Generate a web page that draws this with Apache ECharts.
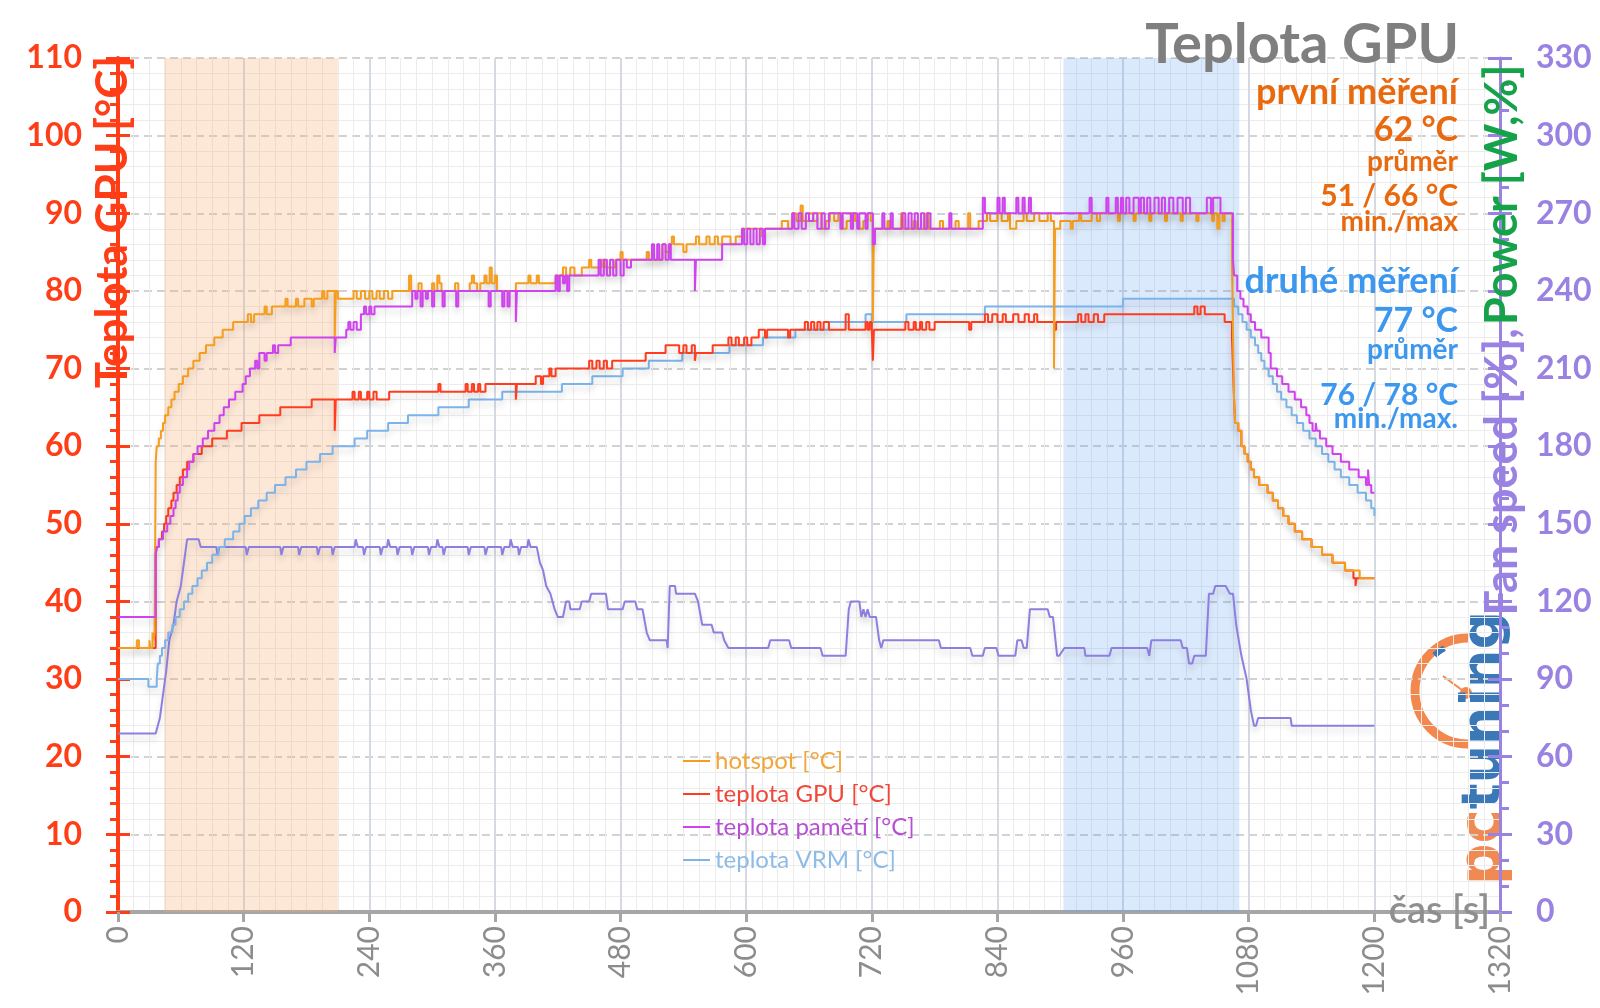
<!DOCTYPE html>
<html><head><meta charset="utf-8">
<script src="https://cdn.jsdelivr.net/npm/echarts@6/dist/echarts.min.js"></script>
<style>html,body{margin:0;padding:0;background:#fff}#c{width:1600px;height:1008px}</style>
</head><body><div id="c"></div>
<script>
// ---- data (time [s], value) ----
const seriesNames = ['hotspot [°C]', 'teplota GPU [°C]', 'teplota pamětí [°C]', 'teplota VRM [°C]'];
const fanName = 'Fan speed [%], Power [W,%]';

const hotspot = [[0,34],[18,35],[20,34],[30,35],[31,34],[33,36],[34,35],[35,36],[36,58],[37,60],[39,61],[41,62],[43,63],[45,64],[48,65],[51,66],[54,67],[58,68],[62,69],[67,70],[72,71],[78,72],[84,73],[92,74],[100,75],[110,76],[124,77],[127,76],[130,77],[140,78],[142,77],[147,78],[160,79],[162,78],[170,79],[172,78],[178,79],[185,78],[187,79],[195,80],[197,79],[200,80],[207,74],[208,80],[210,79],[225,80],[228,79],[232,80],[236,79],[240,80],[243,79],[247,80],[250,79],[254,80],[258,79],[262,80],[278,82],[280,80],[287,81],[290,80],[300,81],[302,80],[305,82],[307,81],[309,80],[322,81],[325,80],[336,81],[338,82],[340,81],[343,80],[346,81],[350,82],[352,81],[355,83],[357,81],[360,82],[362,80],[380,81],[392,82],[394,81],[400,82],[402,81],[418,82],[425,83],[428,82],[432,83],[436,82],[443,83],[450,84],[452,83],[462,84],[465,83],[475,84],[480,85],[482,84],[505,85],[507,84],[520,86],[523,85],[527,86],[529,87],[531,86],[540,85],[543,86],[552,87],[555,86],[562,87],[565,86],[570,87],[573,86],[577,87],[585,86],[590,87],[596,88],[615,87],[618,88],[634,89],[640,88],[644,90],[648,89],[652,91],[654,89],[660,90],[664,89],[668,90],[672,88],[676,89],[680,90],[684,89],[688,90],[692,88],[696,89],[700,90],[704,89],[708,88],[712,89],[716,90],[719,89],[721,76],[722,88],[735,89],[737,88],[748,90],[750,88],[760,89],[762,88],[772,90],[774,88],[785,89],[788,88],[800,89],[803,88],[812,90],[814,88],[822,89],[830,90],[833,89],[840,90],[844,89],[850,90],[852,88],[858,89],[865,90],[868,89],[875,90],[880,89],[888,90],[891,89],[894,70],[895,88],[900,89],[910,88],[912,89],[918,90],[920,89],[930,90],[935,89],[938,90],[955,89],[957,90],[970,89],[972,90],[985,89],[987,90],[1000,89],[1002,90],[1015,89],[1017,90],[1030,89],[1032,90],[1045,89],[1047,90],[1050,88],[1052,90],[1055,89],[1057,90],[1064,84],[1065,74],[1066,66],[1067,63],[1070,62],[1073,60],[1076,59],[1079,58],[1082,57],[1085,56],[1090,55],[1098,54],[1103,53],[1108,52],[1113,51],[1118,50],[1124,49],[1131,48],[1140,47],[1150,46],[1160,45],[1172,44],[1186,43],[1200,43]];

const gpuTemp = [[0,34],[36,46],[37,47],[39,48],[42,49],[44,50],[46,51],[48,52],[51,53],[53,54],[56,55],[59,56],[62,57],[66,58],[72,59],[80,60],[90,61],[104,62],[118,63],[135,64],[155,65],[185,66],[207,62],[208,66],[224,67],[226,66],[230,67],[232,66],[238,67],[240,66],[244,67],[247,66],[259,67],[306,68],[308,67],[332,68],[334,67],[338,68],[340,67],[344,68],[346,67],[351,68],[380,66],[381,68],[399,69],[404,68],[406,69],[412,70],[414,69],[418,70],[450,71],[453,70],[457,71],[460,70],[464,71],[467,70],[472,71],[504,72],[523,73],[536,72],[540,73],[543,72],[548,73],[551,71],[552,72],[568,73],[583,74],[586,73],[590,74],[593,73],[598,74],[601,73],[605,74],[612,75],[618,74],[620,75],[640,74],[642,75],[656,76],[659,75],[662,76],[665,75],[668,76],[671,75],[674,76],[679,75],[695,77],[698,75],[714,76],[716,75],[718,76],[720,75],[721,71],[722,75],[752,76],[755,75],[760,76],[762,75],[766,76],[768,75],[772,76],[775,75],[780,76],[813,75],[815,76],[828,77],[831,76],[835,77],[840,76],[845,77],[848,76],[855,77],[860,76],[866,77],[870,76],[875,77],[878,76],[894,75],[896,76],[917,77],[920,76],[924,77],[927,76],[932,77],[936,76],[942,77],[1028,78],[1031,77],[1034,78],[1038,77],[1057,76],[1064,74],[1065,70],[1066,66],[1067,63],[1070,62],[1073,60],[1076,59],[1079,58],[1082,57],[1085,56],[1090,55],[1098,54],[1103,53],[1108,52],[1113,51],[1118,50],[1124,49],[1131,48],[1140,47],[1150,46],[1160,45],[1172,44],[1180,43],[1182,42],[1183,43],[1200,43]];

const memTemp = [[0,38],[36,46],[37,47],[39,48],[43,49],[47,50],[50,51],[53,52],[55,53],[57,54],[59,55],[62,56],[66,57],[68,58],[72,59],[76,60],[81,61],[86,62],[92,63],[97,64],[101,65],[106,66],[112,67],[119,68],[122,69],[126,70],[131,71],[133,70],[135,72],[140,71],[142,72],[148,73],[150,72],[153,73],[165,74],[207,72],[208,74],[218,75],[220,76],[222,75],[225,76],[228,75],[232,77],[235,78],[237,77],[240,78],[242,77],[245,78],[281,80],[284,79],[286,80],[289,78],[291,80],[294,79],[296,80],[300,78],[302,80],[310,78],[312,80],[323,78],[325,80],[354,78],[356,80],[367,78],[369,80],[372,78],[374,80],[380,76],[381,80],[418,82],[420,80],[422,82],[425,81],[427,82],[429,80],[431,82],[459,84],[461,82],[464,84],[467,82],[470,84],[473,82],[476,84],[480,82],[483,84],[486,83],[490,84],[510,86],[512,84],[515,86],[517,84],[520,86],[523,84],[526,86],[528,84],[551,80],[552,84],[577,86],[596,88],[598,86],[601,88],[604,86],[607,88],[610,86],[613,88],[616,86],[618,88],[644,90],[646,88],[650,90],[653,88],[657,90],[660,89],[664,90],[668,88],[672,90],[675,88],[679,90],[690,88],[692,90],[700,88],[702,90],[706,88],[708,90],[714,88],[716,90],[721,86],[723,88],[730,90],[732,88],[738,90],[740,88],[749,90],[752,88],[755,90],[758,88],[761,90],[764,88],[767,90],[770,88],[773,90],[776,88],[794,90],[796,88],[826,92],[828,90],[840,92],[842,90],[845,92],[847,90],[858,92],[860,90],[864,92],[866,90],[870,92],[872,90],[928,92],[930,90],[944,92],[946,90],[953,92],[955,90],[958,92],[960,90],[963,92],[966,90],[970,92],[975,90],[977,92],[980,90],[983,92],[986,90],[990,92],[994,90],[997,92],[1000,90],[1004,92],[1008,90],[1012,92],[1017,90],[1020,92],[1024,90],[1040,92],[1044,90],[1046,92],[1053,90],[1065,84],[1066,82],[1069,80],[1072,79],[1075,78],[1079,77],[1082,76],[1086,75],[1092,74],[1099,72],[1101,70],[1107,69],[1112,68],[1118,67],[1124,66],[1130,65],[1135,64],[1138,63],[1141,62],[1144,63],[1145,62],[1148,61],[1154,60],[1160,59],[1168,58],[1176,57],[1185,56],[1192,55],[1194,57],[1195,55],[1197,54],[1200,54]];

const vrmTemp = [[0,30],[29,29],[37,30],[38,32],[40,33],[42,34],[45,35],[48,36],[52,37],[55,38],[59,39],[63,40],[67,41],[71,42],[76,43],[80,44],[85,45],[90,46],[96,47],[102,48],[110,49],[116,50],[121,51],[127,52],[134,53],[142,54],[150,55],[160,56],[170,57],[180,58],[193,59],[205,60],[226,61],[238,62],[258,63],[277,64],[306,65],[335,66],[367,67],[424,68],[453,69],[482,70],[507,71],[539,72],[584,73],[616,74],[647,75],[679,76],[714,77],[720,76],[753,77],[828,78],[960,79],[1066,78],[1070,77],[1074,76],[1078,75],[1082,74],[1086,73],[1089,72],[1092,71],[1095,70],[1099,69],[1103,68],[1107,67],[1111,66],[1116,65],[1121,64],[1126,63],[1132,62],[1138,61],[1144,60],[1150,59],[1156,58],[1162,57],[1168,56],[1176,55],[1184,54],[1192,53],[1197,52],[1200,51]];

// fan speed / power, right axis units
const fanPower = [[0,69],[36,69],[38,72],[40,75],[43,84],[46,93],[49,105],[53,111],[56,120],[60,126],[63,135],[66,144],[77,144],[79,141],[94,141],[95,138],[97,141],[122,141],[123,138],[125,141],[155,141],[156,138],[158,141],[172,141],[173,138],[175,141],[190,141],[191,138],[193,141],[204,141],[205,138],[207,141],[226,141],[227,144],[229,141],[234,141],[235,138],[237,141],[250,141],[251,138],[253,141],[257,141],[258,144],[260,141],[266,141],[267,138],[269,141],[280,141],[281,138],[283,141],[296,141],[297,138],[299,141],[304,141],[305,144],[307,141],[310,141],[311,138],[313,141],[334,141],[335,138],[337,141],[350,141],[351,138],[353,141],[366,141],[367,138],[369,141],[374,141],[375,144],[377,141],[382,141],[383,138],[385,141],[391,141],[392,144],[394,141],[400,141],[403,135],[406,132],[409,126],[413,123],[417,117],[420,114],[425,114],[428,120],[431,120],[432,117],[434,117],[441,117],[443,120],[450,120],[452,123],[466,123],[468,117],[482,117],[484,120],[494,120],[496,117],[501,117],[505,108],[508,105],[524,105],[525,102],[527,126],[532,126],[533,123],[551,123],[554,120],[558,111],[567,111],[569,108],[577,108],[579,105],[583,102],[621,102],[623,105],[641,105],[643,102],[671,102],[673,99],[695,99],[698,117],[700,120],[708,120],[710,114],[712,117],[714,114],[716,117],[718,114],[724,114],[727,105],[729,102],[731,105],[784,105],[786,102],[814,102],[816,99],[826,99],[828,102],[839,102],[841,99],[857,99],[859,105],[863,105],[865,102],[868,102],[871,117],[888,117],[890,114],[893,114],[897,99],[899,99],[904,102],[923,102],[924,99],[947,99],[949,102],[983,102],[985,99],[987,105],[1015,105],[1017,102],[1021,102],[1023,96],[1026,96],[1028,99],[1039,99],[1042,123],[1046,123],[1048,126],[1058,126],[1062,123],[1065,123],[1068,111],[1073,99],[1078,90],[1082,78],[1085,72],[1087,72],[1089,75],[1120,75],[1121,72],[1200,72]];

const firstRunRange = [44, 210];
const secondRunRange = [903, 1071];
const firstRunText = ['první měření', '62 °C', 'průměr', '51 / 66 °C', 'min./max'];
const secondRunText = ['druhé měření', '77 °C', 'průměr', '76 / 78 °C', 'min./max.'];

// ---- styles ----
const FONT = 'Lato, "Open Sans", sans-serif';
const RED = '#ff3d17', PURPLE = '#9a82e2', GRAY = '#a6a6a6';
const colors = {hot:'#f59d1c', gpu:'#ff3c1e', mem:'#cf42ee', vrm:'#7cb4ea', fan:'#8c7fe0'};
const legendText = ['#f2a63a', '#f0473a', '#b650d2', '#8fbce6'];
const shadow = {shadowColor:'rgba(0,0,0,0.16)', shadowBlur:6, shadowOffsetY:5};

function lineSeries(name, data, color, step) {
  return {
    name, type:'line', data, step: step ? 'end' : false, showSymbol:false, symbol:'none',
    color, lineStyle:Object.assign({width:2, color}, shadow), silent:true
  };
}

const chart = echarts.init(document.getElementById('c'), null, {renderer:'canvas'});

const statYs1 = [92, 130, 162, 196, 222], statYs2 = [281, 321, 350, 395, 419];
const statSizes = [36, 34, 28, 30, 28];
const graphics = [];
graphics.push({type:'text', x:1459, y:45, z:50, style:{text:'Teplota GPU', fill:'#7f7f7f', font:'bold 56px ' + FONT, align:'right', verticalAlign:'middle'}});
firstRunText.forEach((t, i) => graphics.push({type:'text', x:1458, y:statYs1[i], z:50, style:{text:t, fill:'#e8690e', font:'bold ' + statSizes[i] + 'px ' + FONT, align:'right', verticalAlign:'middle'}}));
secondRunText.forEach((t, i) => graphics.push({type:'text', x:1458, y:statYs2[i], z:50, style:{text:t, fill:'#3c97ee', font:'bold ' + statSizes[i] + 'px ' + FONT, align:'right', verticalAlign:'middle'}}));
// axis names
graphics.push({type:'text', x:113, y:222, rotation:Math.PI/2, z:50, style:{text:'Teplota GPU [°C]', fill:RED, font:'bold 44px ' + FONT, align:'center', verticalAlign:'middle'}});
graphics.push({type:'text', x:1502, y:340, rotation:Math.PI/2, z:50, style:{text:'{a|Fan speed [%],} {b|Power [W,%]}', align:'center', verticalAlign:'middle',
  rich:{a:{fill:PURPLE, font:'bold 45px ' + FONT}, b:{fill:'#16a249', font:'bold 45px ' + FONT}}}});
graphics.push({type:'text', x:1490, y:911, z:50, style:{text:'čas [s]', fill:'#8f8f8f', font:'600 38px ' + FONT, align:'right', verticalAlign:'middle'}});
// logo watermark
graphics.push({type:'group', z:5, children:[
  {type:'arc', shape:{cx:1468, cy:691, r:53, startAngle:Math.PI/2, endAngle:Math.PI*1.5, clockwise:true}, style:{stroke:'#f3884f', lineWidth:9, fill:null}},
  {type:'arc', shape:{cx:1468, cy:691, r:49, startAngle:Math.PI*1.26, endAngle:Math.PI*1.34, clockwise:true}, style:{stroke:'#3a78b8', lineWidth:6, fill:null}},
  {type:'line', shape:{x1:1443, y1:676, x2:1466, y2:693}, style:{stroke:'#f3884f', lineWidth:2}},
  {type:'circle', shape:{cx:1466, cy:693, r:6}, style:{fill:'#f3884f'}},
  {type:'text', x:1485, y:748, rotation:Math.PI/2, style:{text:'{p|pc}{t|tuning}', align:'center', verticalAlign:'middle',
    rich:{p:{fill:'#f08a52', font:'bold 58px "DejaVu Sans", sans-serif'}, t:{fill:'#3a78b8', font:'bold 54px "DejaVu Sans", sans-serif'}}}}
]});

const yLeftBase = {type:'value', position:'left', min:0, max:110, interval:10};
const yRightBase = {type:'value', position:'right', min:0, max:330, interval:30};

const fanSeries = lineSeries(fanName, fanPower, colors.fan, false);
fanSeries.yAxisIndex = 1;
fanSeries.markArea = {silent:true, data:[
  [{xAxis:firstRunRange[0], itemStyle:{color:'rgba(247,170,110,0.27)'}}, {xAxis:firstRunRange[1]}],
  [{xAxis:secondRunRange[0], itemStyle:{color:'rgba(100,160,240,0.23)'}}, {xAxis:secondRunRange[1]}]
]};

const option = {
  animation:false,
  backgroundColor:'#ffffff',
  textStyle:{fontFamily:FONT},
  grid:{left:118, right:100, top:58, bottom:96, containLabel:false},
  legend:{
    orient:'vertical', left:683, top:749, padding:0, itemWidth:27, itemHeight:2, itemGap:9, icon:'rect',
    textStyle:{fontSize:24, fontFamily:FONT},
    data:seriesNames.map((n, i) => ({name:n, textStyle:{color:legendText[i]}}))
  },
  xAxis:{
    type:'value', min:0, max:1320, interval:120,
    axisLine:{show:true, onZero:false, lineStyle:{color:GRAY, width:4}},
    axisTick:{show:true, length:10, lineStyle:{color:GRAY, width:3}},
    axisLabel:{rotate:90, color:'#8c8c8c', fontSize:30, fontFamily:FONT, margin:14, formatter:v => String(v)},
    splitLine:{show:true, lineStyle:{color:'#d5dae2', width:2}},
    minorTick:{show:true, splitNumber:8, length:0},
    minorSplitLine:{show:true, lineStyle:{color:'#ececec', width:1}}
  },
  yAxis:[
    Object.assign({}, yLeftBase, {
      axisLine:{show:true, onZero:false, lineStyle:{color:RED, width:4}},
      axisTick:{show:true, length:12, lineStyle:{color:RED, width:3}},
      minorTick:{show:true, splitNumber:5, length:8, lineStyle:{color:RED, width:3}},
      axisLabel:{color:RED, fontSize:32, fontWeight:'bold', fontFamily:FONT, margin:36},
      splitLine:{show:true, lineStyle:{color:'#d2d2d2', width:2, type:[8,5]}},
      minorSplitLine:{show:true, lineStyle:{color:'#ececec', width:1}}
    }),
    Object.assign({}, yRightBase, {
      axisLine:{show:true, onZero:false, lineStyle:{color:PURPLE, width:3}},
      axisTick:{show:true, length:12, lineStyle:{color:PURPLE, width:3}},
      minorTick:{show:true, splitNumber:3, length:9, lineStyle:{color:PURPLE, width:3}},
      axisLabel:{color:PURPLE, fontSize:32, fontWeight:'bold', fontFamily:FONT, margin:36},
      splitLine:{show:false}
    }),
    Object.assign({}, yLeftBase, {
      axisLine:{show:false}, axisLabel:{show:false}, splitLine:{show:false},
      axisTick:{show:true, inside:true, length:12, lineStyle:{color:RED, width:3}}
    }),
    Object.assign({}, yRightBase, {
      axisLine:{show:false}, axisLabel:{show:false}, splitLine:{show:false},
      axisTick:{show:true, inside:true, length:12, lineStyle:{color:PURPLE, width:3}}
    })
  ],
  series:[
    fanSeries,
    lineSeries(seriesNames[3], vrmTemp, colors.vrm, true),
    lineSeries(seriesNames[1], gpuTemp, colors.gpu, true),
    lineSeries(seriesNames[0], hotspot, colors.hot, true),
    lineSeries(seriesNames[2], memTemp, colors.mem, true)
  ],
  graphic:graphics
};
chart.setOption(option);
</script>
</body></html>
